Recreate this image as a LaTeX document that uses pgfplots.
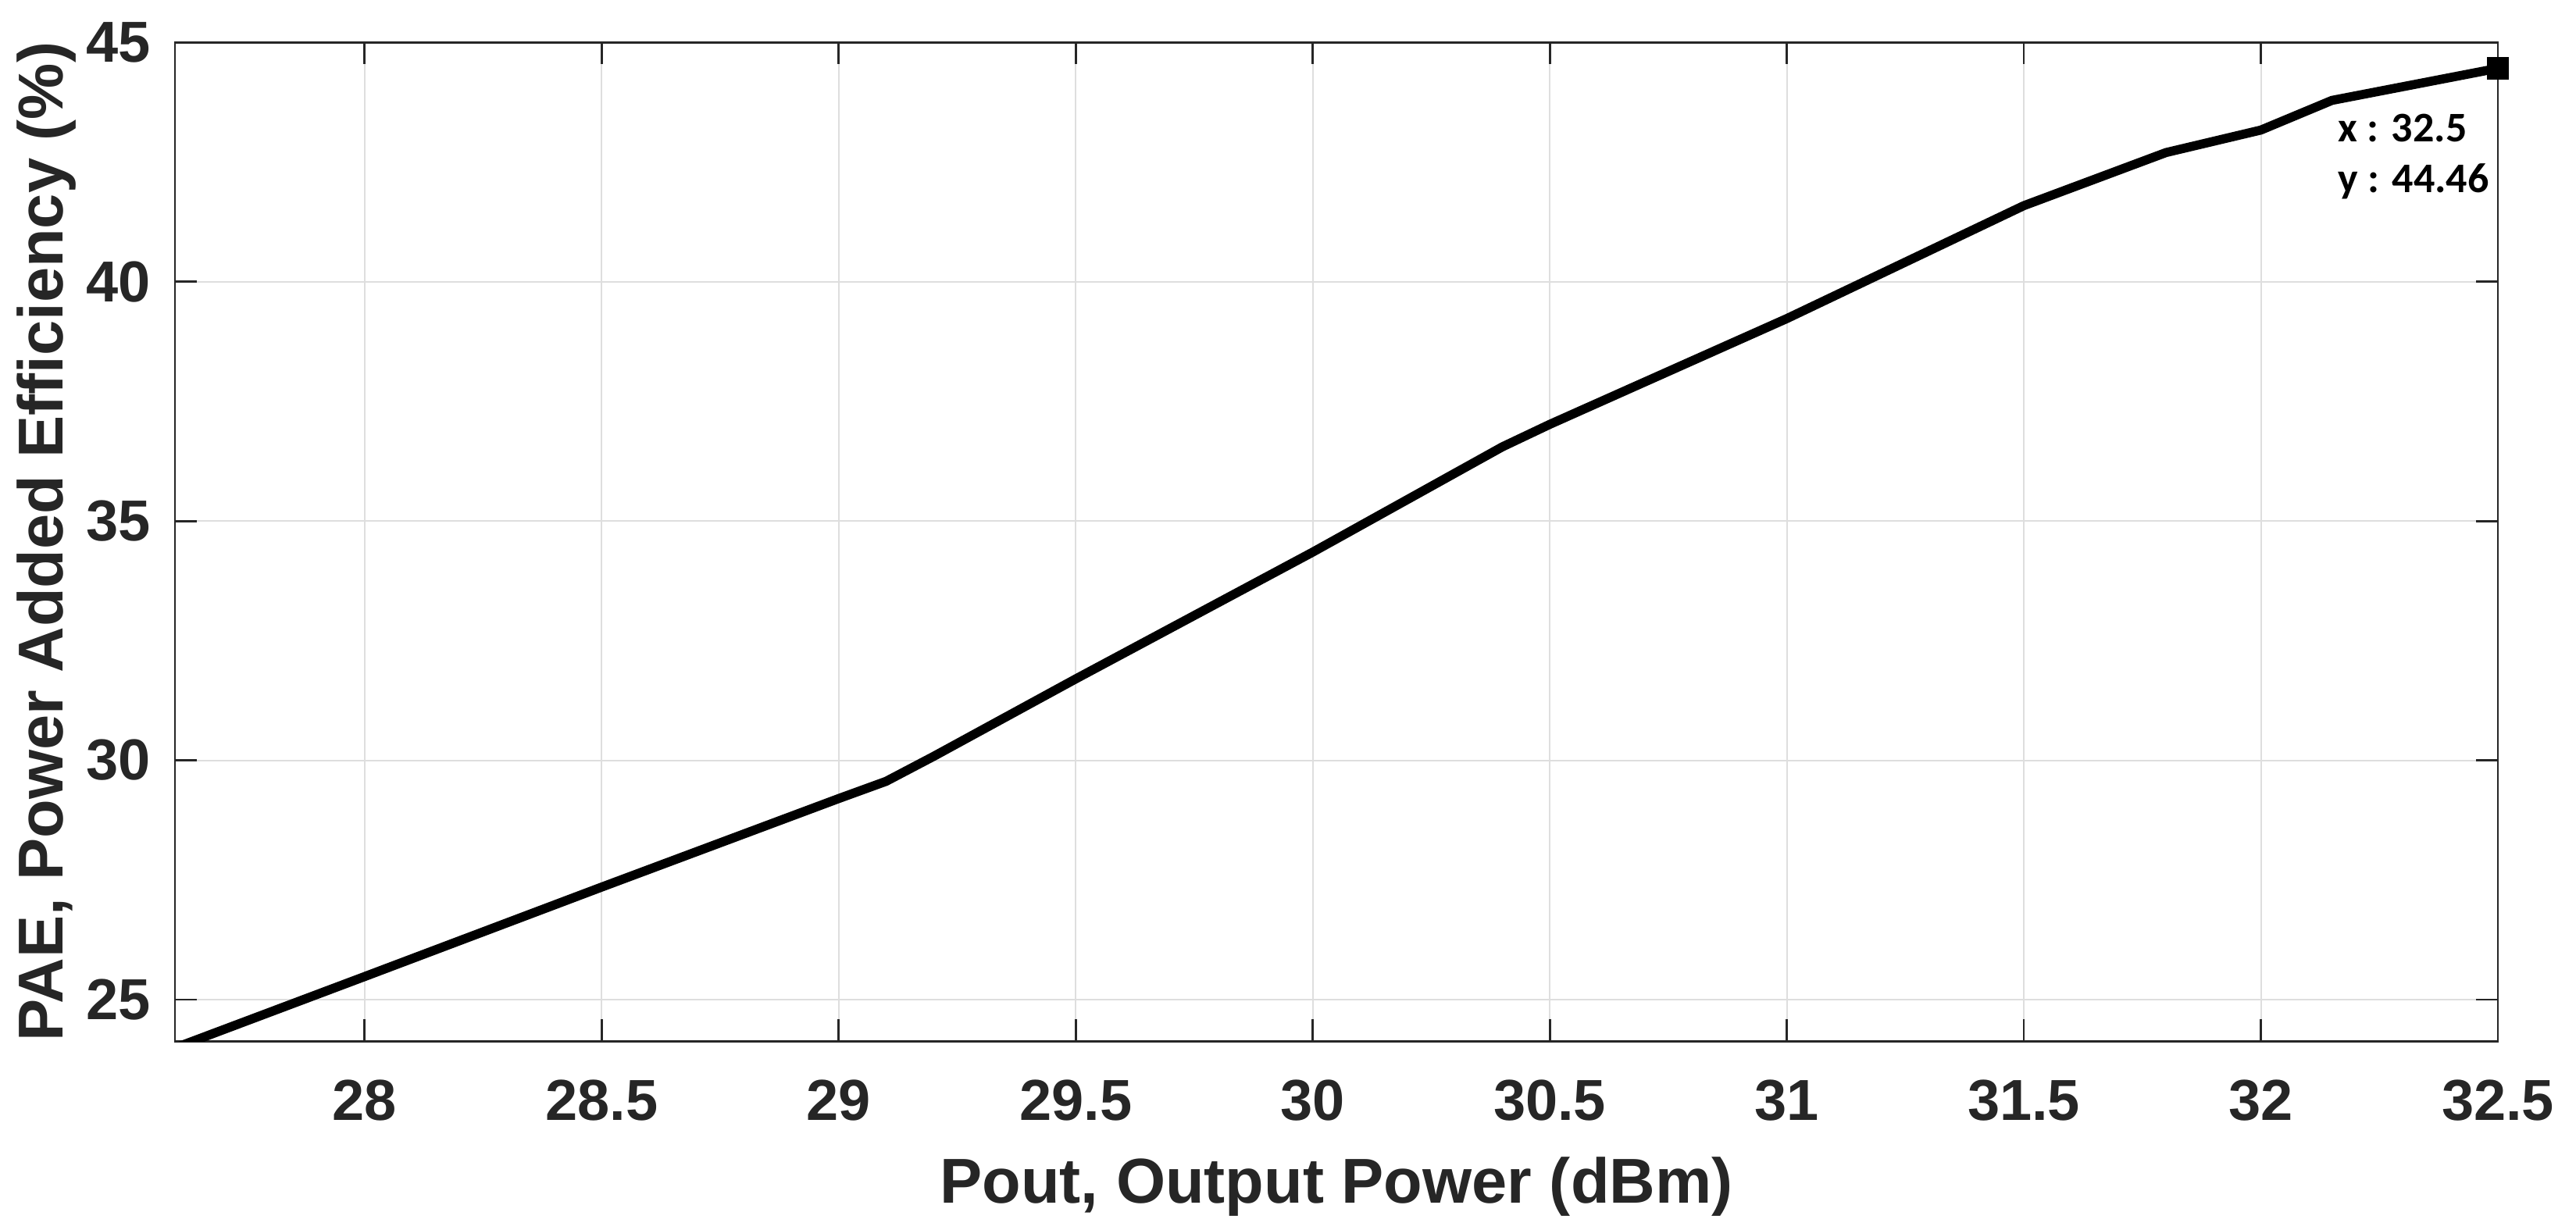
\documentclass[border=0pt]{standalone}
\usepackage{fontspec}
\setmainfont{Liberation Sans}
\newfontfamily\tipfont{Carlito}
\usepackage{pgfplots}
\pgfplotsset{compat=1.18}
\definecolor{axgray}{HTML}{262626}
\definecolor{gridgray}{HTML}{DEDEDE}
\begin{document}
\begin{tikzpicture}
\begin{axis}[
  name=ax,
  scale only axis,
  width=743.5pt, height=319.7pt,
  xmin=27.6, xmax=32.5,
  ymin=24.13, ymax=45,
  xtick={28,28.5,29,29.5,30,30.5,31,31.5,32,32.5},
  ytick={25,30,35,40,45},
  xticklabels={28,28.5,29,29.5,30,30.5,31,31.5,32,32.5},
  grid=major,
  major grid style={gridgray, line width=0.5pt},
  axis line style={axgray, line width=0.7pt},
  tick style={axgray, line width=0.7pt},
  tick align=inside,
  major tick length=7pt,
  /pgf/number format/assume math mode=true,
  tick label style={font=\fontsize{18.5}{20}\selectfont\bfseries, text=axgray},
  xticklabel style={inner sep=0pt, anchor=north, yshift=-12.2pt},
  yticklabel style={inner sep=0pt, anchor=east, xshift=-7.7pt},
  every axis x label/.style={at={(axis description cs:0.5,-0.1617)}, anchor=base},
  every axis y label/.style={at={(axis description cs:-0.0484,0.5)}, rotate=90, anchor=base},
  label style={font=\fontsize{20.3}{22}\selectfont\bfseries, text=axgray},
  xlabel={Pout, Output Power (dBm)},
  ylabel={PAE, Power Added Efficiency (\%)},
]
\addplot[black, line width=2.9pt, line join=round] coordinates {
(27.6,23.99) (28.0,25.48) (28.5,27.35) (29.0,29.20) (29.1,29.56) (29.2,30.08)
(29.5,31.70) (30.0,34.35) (30.4,36.55) (30.5,37.02) (31.0,39.23) (31.5,41.59)
(31.8,42.70) (32.0,43.17) (32.15,43.79) (32.5,44.46)
};
\addplot[only marks, mark=square*, mark size=3.4pt, black] coordinates {(32.5,44.46)};
\node[anchor=base west, inner sep=0pt, font=\tipfont\fontsize{13.5}{15}\selectfont\bfseries] at (axis cs:32.162,42.92) {x : 32.5};
\node[anchor=base west, inner sep=0pt, font=\tipfont\fontsize{13.5}{15}\selectfont\bfseries] at (axis cs:32.162,41.86) {y : 44.46};
\end{axis}
\pgfresetboundingbox
\path[use as bounding box] ([xshift=-56pt,yshift=-60.25pt]ax.south west) rectangle ([xshift=25pt,yshift=13.6pt]ax.north east);
\end{tikzpicture}
\end{document}
